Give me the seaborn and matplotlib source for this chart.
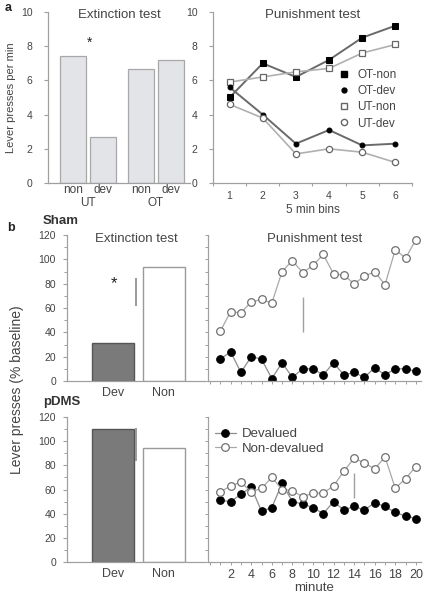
import matplotlib
matplotlib.use("Agg")
import matplotlib.pyplot as plt
from matplotlib.lines import Line2D
from matplotlib.ticker import MultipleLocator, NullFormatter
import seaborn as sns
import pandas as pd

# ---- panel a: extinction test (lever presses per min) ----
ext_a_group = ["UT", "UT", "OT", "OT"]
ext_a_cond = ["non", "dev", "non", "dev"]
ext_a_rate = [7.4, 2.7, 6.65, 7.2]

# ---- panel a: punishment test, 5 min bins ----
bins = [1, 2, 3, 4, 5, 6]
ot_non = [5.0, 7.0, 6.2, 7.2, 8.5, 9.2]
ot_dev = [5.6, 4.0, 2.3, 3.1, 2.2, 2.3]
ut_non = [5.9, 6.2, 6.5, 6.7, 7.6, 8.1]
ut_dev = [4.6, 3.8, 1.7, 2.0, 1.8, 1.2]

# ---- panel b: extinction test (% baseline) ----
ext_b_cond = ["Dev", "Non"]
sham_ext = [31, 94]
pdms_ext = [110, 94]
sham_ext_sed = [62, 85]
pdms_ext_sed = [84, 111]

# ---- panel b: punishment test, per minute ----
minutes = list(range(1, 21))
sham_non = [41, 57, 56, 65, 67, 64, 90, 99, 89, 95, 104, 88, 87, 80, 86, 90, 79, 108, 101, 116]
sham_dev = [18, 24, 7, 20, 18, 2, 15, 3, 10, 10, 5, 15, 5, 7, 3, 11, 5, 10, 10, 8]
pdms_non = [58, 63, 66, 58, 61, 70, 60, 59, 54, 57, 57, 63, 75, 86, 82, 77, 87, 61, 69, 79]
pdms_dev = [51, 50, 56, 62, 42, 45, 65, 50, 48, 45, 40, 50, 43, 46, 43, 49, 46, 41, 38, 36]
sham_pun_sed = (9, [40, 69])
pdms_pun_sed = (14, [53, 74])

sns.set_theme(style="ticks")
plt.rcParams["font.family"] = ["Liberation Sans", "DejaVu Sans"]
plt.rcParams["axes.edgecolor"] = "#a0a0a0"
plt.rcParams["xtick.color"] = "#a0a0a0"
plt.rcParams["ytick.color"] = "#a0a0a0"
plt.rcParams["xtick.labelcolor"] = "#444444"
plt.rcParams["ytick.labelcolor"] = "#444444"
plt.rcParams["text.color"] = "#333333"

W, H = 431, 601
fig = plt.figure(figsize=(W / 100, H / 100), dpi=100)


def axes_px(x0, y0, x1, y1):
    return fig.add_axes([x0 / W, 1 - y1 / H, (x1 - x0) / W, (y1 - y0) / H])


def clean(ax):
    sns.despine(ax=ax)
    ax.spines["left"].set_linewidth(0.9)
    ax.spines["bottom"].set_linewidth(0.9)
    ax.set_xlabel("")
    ax.set_ylabel("")


# ================= panel a, left =================
ax1 = axes_px(48, 12, 190, 183)
df_a = pd.DataFrame({"group": ext_a_group, "cond": ext_a_cond, "rate": ext_a_rate})
sns.barplot(data=df_a, x="group", y="rate", hue="cond", ax=ax1, width=0.88, gap=0.14,
            palette=["#e2e3e9", "#e2e3e9"], edgecolor="#a8a8a8", linewidth=0.9, legend=False)
clean(ax1)
ax1.set_ylim(0, 10)
ax1.set_xlim(-0.59, 1.5)
ax1.set_yticks([0, 2, 4, 6, 8, 10])
ax1.tick_params(axis="y", labelsize=7.5, length=3, width=0.8, pad=8)
centers = sorted(p.get_x() + p.get_width() / 2 for p in ax1.patches)
ax1.set_xticks(centers)
ax1.set_xticklabels(["non", "dev", "non", "dev"], fontsize=8.5)
ax1.tick_params(axis="x", length=0, pad=1)
for i, g in enumerate(["UT", "OT"]):
    ax1.text(i, -0.15, g, transform=ax1.get_xaxis_transform(), ha="center", va="bottom",
             fontsize=8.5, color="#444444")
ax1.text(0.02, 8.2, "*", ha="center", va="center", fontsize=10, color="#222222")
ax1.set_title("Extinction test", fontsize=9.5, color="#444444", pad=-3, y=0.99)
ax1.set_ylabel("Lever presses per min", fontsize=8, color="#444444", labelpad=4)

# ================= panel a, right =================
ax2 = axes_px(213, 12, 412, 183)
sns.lineplot(x=bins, y=ot_non, ax=ax2, color="#6a6a6a", lw=1.4, marker="s", markersize=4.5,
             markerfacecolor="black", markeredgecolor="black")
sns.lineplot(x=bins, y=ut_non, ax=ax2, color="#b0b0b0", lw=1.2, marker="s", markersize=4.5,
             markerfacecolor="white", markeredgecolor="#666666", markeredgewidth=0.9)
sns.lineplot(x=bins, y=ot_dev, ax=ax2, color="#6a6a6a", lw=1.4, marker="o", markersize=3.5,
             markerfacecolor="black", markeredgecolor="black")
sns.lineplot(x=bins, y=ut_dev, ax=ax2, color="#b0b0b0", lw=1.2, marker="o", markersize=4.5,
             markerfacecolor="white", markeredgecolor="#666666", markeredgewidth=0.9)
clean(ax2)
ax2.set_ylim(0, 10)
ax2.set_xlim(0.5, 6.5)
ax2.set_yticks([0, 2, 4, 6, 8, 10])
ax2.tick_params(axis="y", labelsize=7.5, length=3, width=0.8, pad=8)
ax2.set_xticks(bins)
ax2.xaxis.set_minor_locator(MultipleLocator(1, offset=0.5))
ax2.tick_params(axis="x", which="major", length=0, labelsize=7.5, pad=6)
ax2.tick_params(axis="x", which="minor", length=2.5, width=0.8)
ax2.set_xlabel("5 min bins", fontsize=8.5, color="#444444", labelpad=2)
ax2.set_title("Punishment test", fontsize=9.5, color="#444444", pad=-3, y=0.99)
leg_a = [
    Line2D([], [], ls="none", marker="s", ms=4.5, mfc="black", mec="black"),
    Line2D([], [], ls="none", marker="o", ms=3.5, mfc="black", mec="black"),
    Line2D([], [], ls="none", marker="s", ms=4.5, mfc="white", mec="#666666"),
    Line2D([], [], ls="none", marker="o", ms=4.5, mfc="white", mec="#666666"),
]
ax2.legend(leg_a, ["OT-non", "OT-dev", "UT-non", "UT-dev"], loc="upper left",
           bbox_to_anchor=(0.6, 0.7), frameon=False, fontsize=8.5, handlelength=1.0,
           handletextpad=0.6, labelspacing=0.35, borderpad=0, labelcolor="#444444")


# ================= panel b =================
def ext_panel(ax, vals, sed, show_title):
    sns.barplot(x=ext_b_cond, y=vals, hue=ext_b_cond, ax=ax, width=0.83,
                palette=["#7a7a7a", "white"], linewidth=1.0, legend=False)
    for p, ec in zip(ax.patches, ["#555555", "#9a9a9a"]):
        p.set_edgecolor(ec)
    clean(ax)
    ax.vlines(0.46, sed[0], sed[1], color="#8a8a8a", lw=1.2)
    ax.set_ylim(0, 120)
    ax.set_xlim(-0.91, 1.82)
    ax.set_yticks(range(0, 121, 20))
    ax.yaxis.set_minor_locator(MultipleLocator(10))
    ax.tick_params(axis="y", which="major", labelsize=7.5, length=3, width=0.8, pad=5)
    ax.tick_params(axis="y", which="minor", length=2, width=0.7)
    ax.tick_params(axis="x", length=0, labelsize=9, pad=4)
    if show_title:
        ax.set_title("Extinction test", fontsize=9.5, color="#444444", pad=-4, y=0.99)


def pun_panel(ax, dev, non, sed, show_labels, show_title):
    sns.lineplot(x=minutes, y=dev, ax=ax, color="#8c8c8c", lw=0.9, marker="o", markersize=5.5,
                 markerfacecolor="black", markeredgecolor="black", label="Devalued")
    sns.lineplot(x=minutes, y=non, ax=ax, color="#a8a8a8", lw=0.9, marker="o", markersize=5.5,
                 markerfacecolor="white", markeredgecolor="#707070", markeredgewidth=0.9,
                 label="Non-devalued")
    clean(ax)
    ax.vlines(sed[0], sed[1][0], sed[1][1], color="#a0a0a0", lw=1.0)
    ax.set_ylim(0, 120)
    ax.set_xlim(-0.2, 20.5)
    ax.yaxis.set_major_locator(MultipleLocator(10))
    ax.yaxis.set_major_formatter(NullFormatter())
    ax.tick_params(axis="y", length=2, width=0.7)
    ax.xaxis.set_major_locator(MultipleLocator(2))
    ax.xaxis.set_minor_locator(MultipleLocator(1))
    ax.tick_params(axis="x", which="both", length=2, width=0.7, labelsize=9, pad=3)
    if show_labels:
        ax.set_xticks(range(2, 21, 2))
        ax.set_xlabel("minute", fontsize=9.5, color="#444444", labelpad=1)
        ax.legend(loc="upper left", bbox_to_anchor=(0.0, 0.97), frameon=False, fontsize=9.5,
                  handlelength=1.6, handletextpad=0.5, labelspacing=0.2, borderpad=0,
                  labelcolor="#444444")
    else:
        ax.xaxis.set_major_formatter(NullFormatter())
        ax.get_legend().remove()
    if show_title:
        ax.set_title("Punishment test", fontsize=9.5, color="#444444", pad=-4, y=0.99)


ax3 = axes_px(67, 235, 205, 381)
ext_panel(ax3, sham_ext, sham_ext_sed, True)
ax3.text(0.02, 80, "*", ha="center", va="center", fontsize=12, color="#222222")
ax4 = axes_px(208, 235, 421, 381)
pun_panel(ax4, sham_dev, sham_non, sham_pun_sed, False, True)

ax5 = axes_px(67, 417, 205, 562)
ext_panel(ax5, pdms_ext, pdms_ext_sed, False)
ax6 = axes_px(208, 417, 421, 562)
pun_panel(ax6, pdms_dev, pdms_non, pdms_pun_sed, True, False)

# panel letters, group labels and shared y label
fig.text(5 / W, 1 - 8 / H, "a", fontsize=9, fontweight="bold", va="center", color="#222222")
fig.text(7 / W, 1 - 228 / H, "b", fontsize=9, fontweight="bold", va="center", color="#222222")
fig.text(43 / W, 1 - 221 / H, "Sham", fontsize=9.5, fontweight="bold", va="center", color="#333333")
fig.text(43 / W, 1 - 402 / H, "pDMS", fontsize=9.5, fontweight="bold", va="center", color="#333333")
fig.text(17 / W, 1 - 390 / H, "Lever presses (% baseline)", fontsize=10, rotation=90,
         ha="center", va="center", color="#444444")

fig.savefig("out.png", dpi=100)
